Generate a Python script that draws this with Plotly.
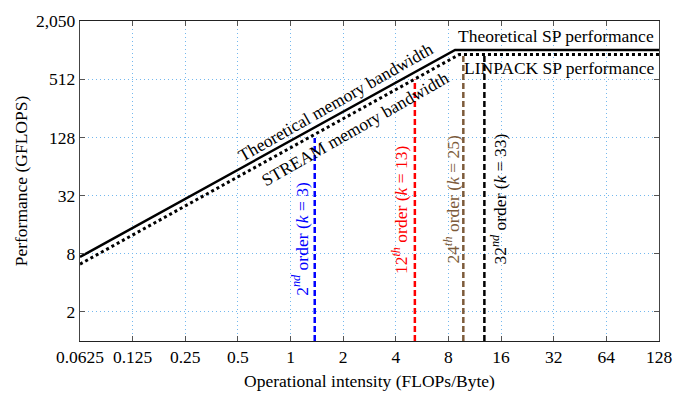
import numpy as np
import plotly.graph_objects as go

# ---- data ----
x_ticks = [0.0625, 0.125, 0.25, 0.5, 1, 2, 4, 8, 16, 32, 64, 128]
x_tick_labels = ["0.0625", "0.125", "0.25", "0.5", "1", "2", "4", "8", "16", "32", "64", "128"]
y_ticks = [2, 8, 32, 128, 512, 2050]
y_tick_labels = ["2", "8", "32", "128", "512", "2,050"]

# Roofline: theoretical (solid) and measured STREAM/LINPACK (dotted)
theo_x = [0.0625, 8.73, 128]
theo_y = [7.4, 1030, 1030]
meas_x = [0.0625, 9.2, 128]
meas_y = [6.25, 920, 920]

# Stencil orders: operational intensity and height of marker line
order_names = ["2<sup><i>nd</i></sup> order (<i>k</i> = 3)",
               "12<sup><i>th</i></sup> order (<i>k</i> = 13)",
               "24<sup><i>th</i></sup> order (<i>k</i> = 25)",
               "32<sup><i>nd</i></sup> order (<i>k</i> = 33)"]
order_x = [1.375, 5.14, 9.73, 12.84]
order_top = [126, 510, 918, 918]
order_colors = ["#0000ff", "#ff0000", "#7d5b3a", "#000000"]
# label positions (intensity, performance)
label_x = [1.14, 4.22, 8.38, 15.6]
label_y = [11.3, 22.6, 29.2, 29.2]

FONT = "Liberation Serif, Times New Roman, serif"
FS = 17.5
ANG = -np.degrees(np.arctan(30 / 52.5))

fig = go.Figure()
fig.add_trace(go.Scatter(x=theo_x, y=theo_y, mode="lines",
                         line=dict(color="black", width=2.5), showlegend=False))
fig.add_trace(go.Scatter(x=meas_x, y=meas_y, mode="lines",
                         line=dict(color="black", width=3, dash="3px,3px"), showlegend=False))
for xv, top, col in zip(order_x, order_top, order_colors):
    fig.add_trace(go.Scatter(x=[xv, xv], y=[1, top], mode="lines",
                             line=dict(color=col, width=2.5, dash="6px,3px"), showlegend=False))

ann = []
for name, lx, ly, col in zip(order_names, label_x, label_y, order_colors):
    ann.append(dict(x=np.log10(lx), y=np.log10(ly), text=name, textangle=-90,
                    showarrow=False, xanchor="center", yanchor="middle",
                    font=dict(family=FONT, size=FS, color=col)))
ann.append(dict(x=np.log10(1.81), y=np.log10(301), text="Theoretical memory bandwidth",
                textangle=ANG, showarrow=False, xanchor="center", yanchor="middle",
                font=dict(family=FONT, size=FS, color="black")))
ann.append(dict(x=np.log10(2.33), y=np.log10(157.6), text="STREAM memory bandwidth",
                textangle=ANG, showarrow=False, xanchor="center", yanchor="middle",
                font=dict(family=FONT, size=FS, color="black")))
ann.append(dict(x=np.log10(123.8), y=np.log10(1448), text="Theoretical SP performance",
                showarrow=False, xanchor="right", yanchor="middle",
                font=dict(family=FONT, size=FS, color="black")))
ann.append(dict(x=np.log10(123.8), y=np.log10(676), text="LINPACK SP performance",
                showarrow=False, xanchor="right", yanchor="middle",
                font=dict(family=FONT, size=FS, color="black")))

grid_col = "#74b8ee"
fig.update_layout(
    width=697, height=400,
    margin=dict(l=80, r=38, t=11, b=59),
    plot_bgcolor="white", paper_bgcolor="white",
    font=dict(family=FONT, size=FS, color="black"),
    annotations=ann,
    xaxis=dict(type="log", range=[np.log10(0.0625), np.log10(128)],
               tickvals=x_ticks, ticktext=x_tick_labels,
               showgrid=True, gridcolor=grid_col, griddash="1.2px,2.8px", gridwidth=1,
               showline=True, linecolor="#222", linewidth=1.3, mirror="ticks",
               ticks="inside", ticklen=5, tickcolor="#555", zeroline=False,
               tickfont=dict(family=FONT, size=FS),
               title=dict(text="Operational intensity (FLOPs/Byte)", standoff=8,
                          font=dict(family=FONT, size=FS))),
    yaxis=dict(type="log", range=[0, np.log10(2050)],
               tickvals=y_ticks, ticktext=y_tick_labels,
               showgrid=True, gridcolor=grid_col, griddash="1.2px,2.8px", gridwidth=1,
               showline=True, linecolor="#444", linewidth=1.3, mirror="ticks",
               ticks="inside", ticklen=5, tickcolor="#555", zeroline=False,
               tickfont=dict(family=FONT, size=FS),
               title=dict(text="Performance (GFLOPS)", standoff=3,
                          font=dict(family=FONT, size=FS))),
)
fig.write_html("out.html")
